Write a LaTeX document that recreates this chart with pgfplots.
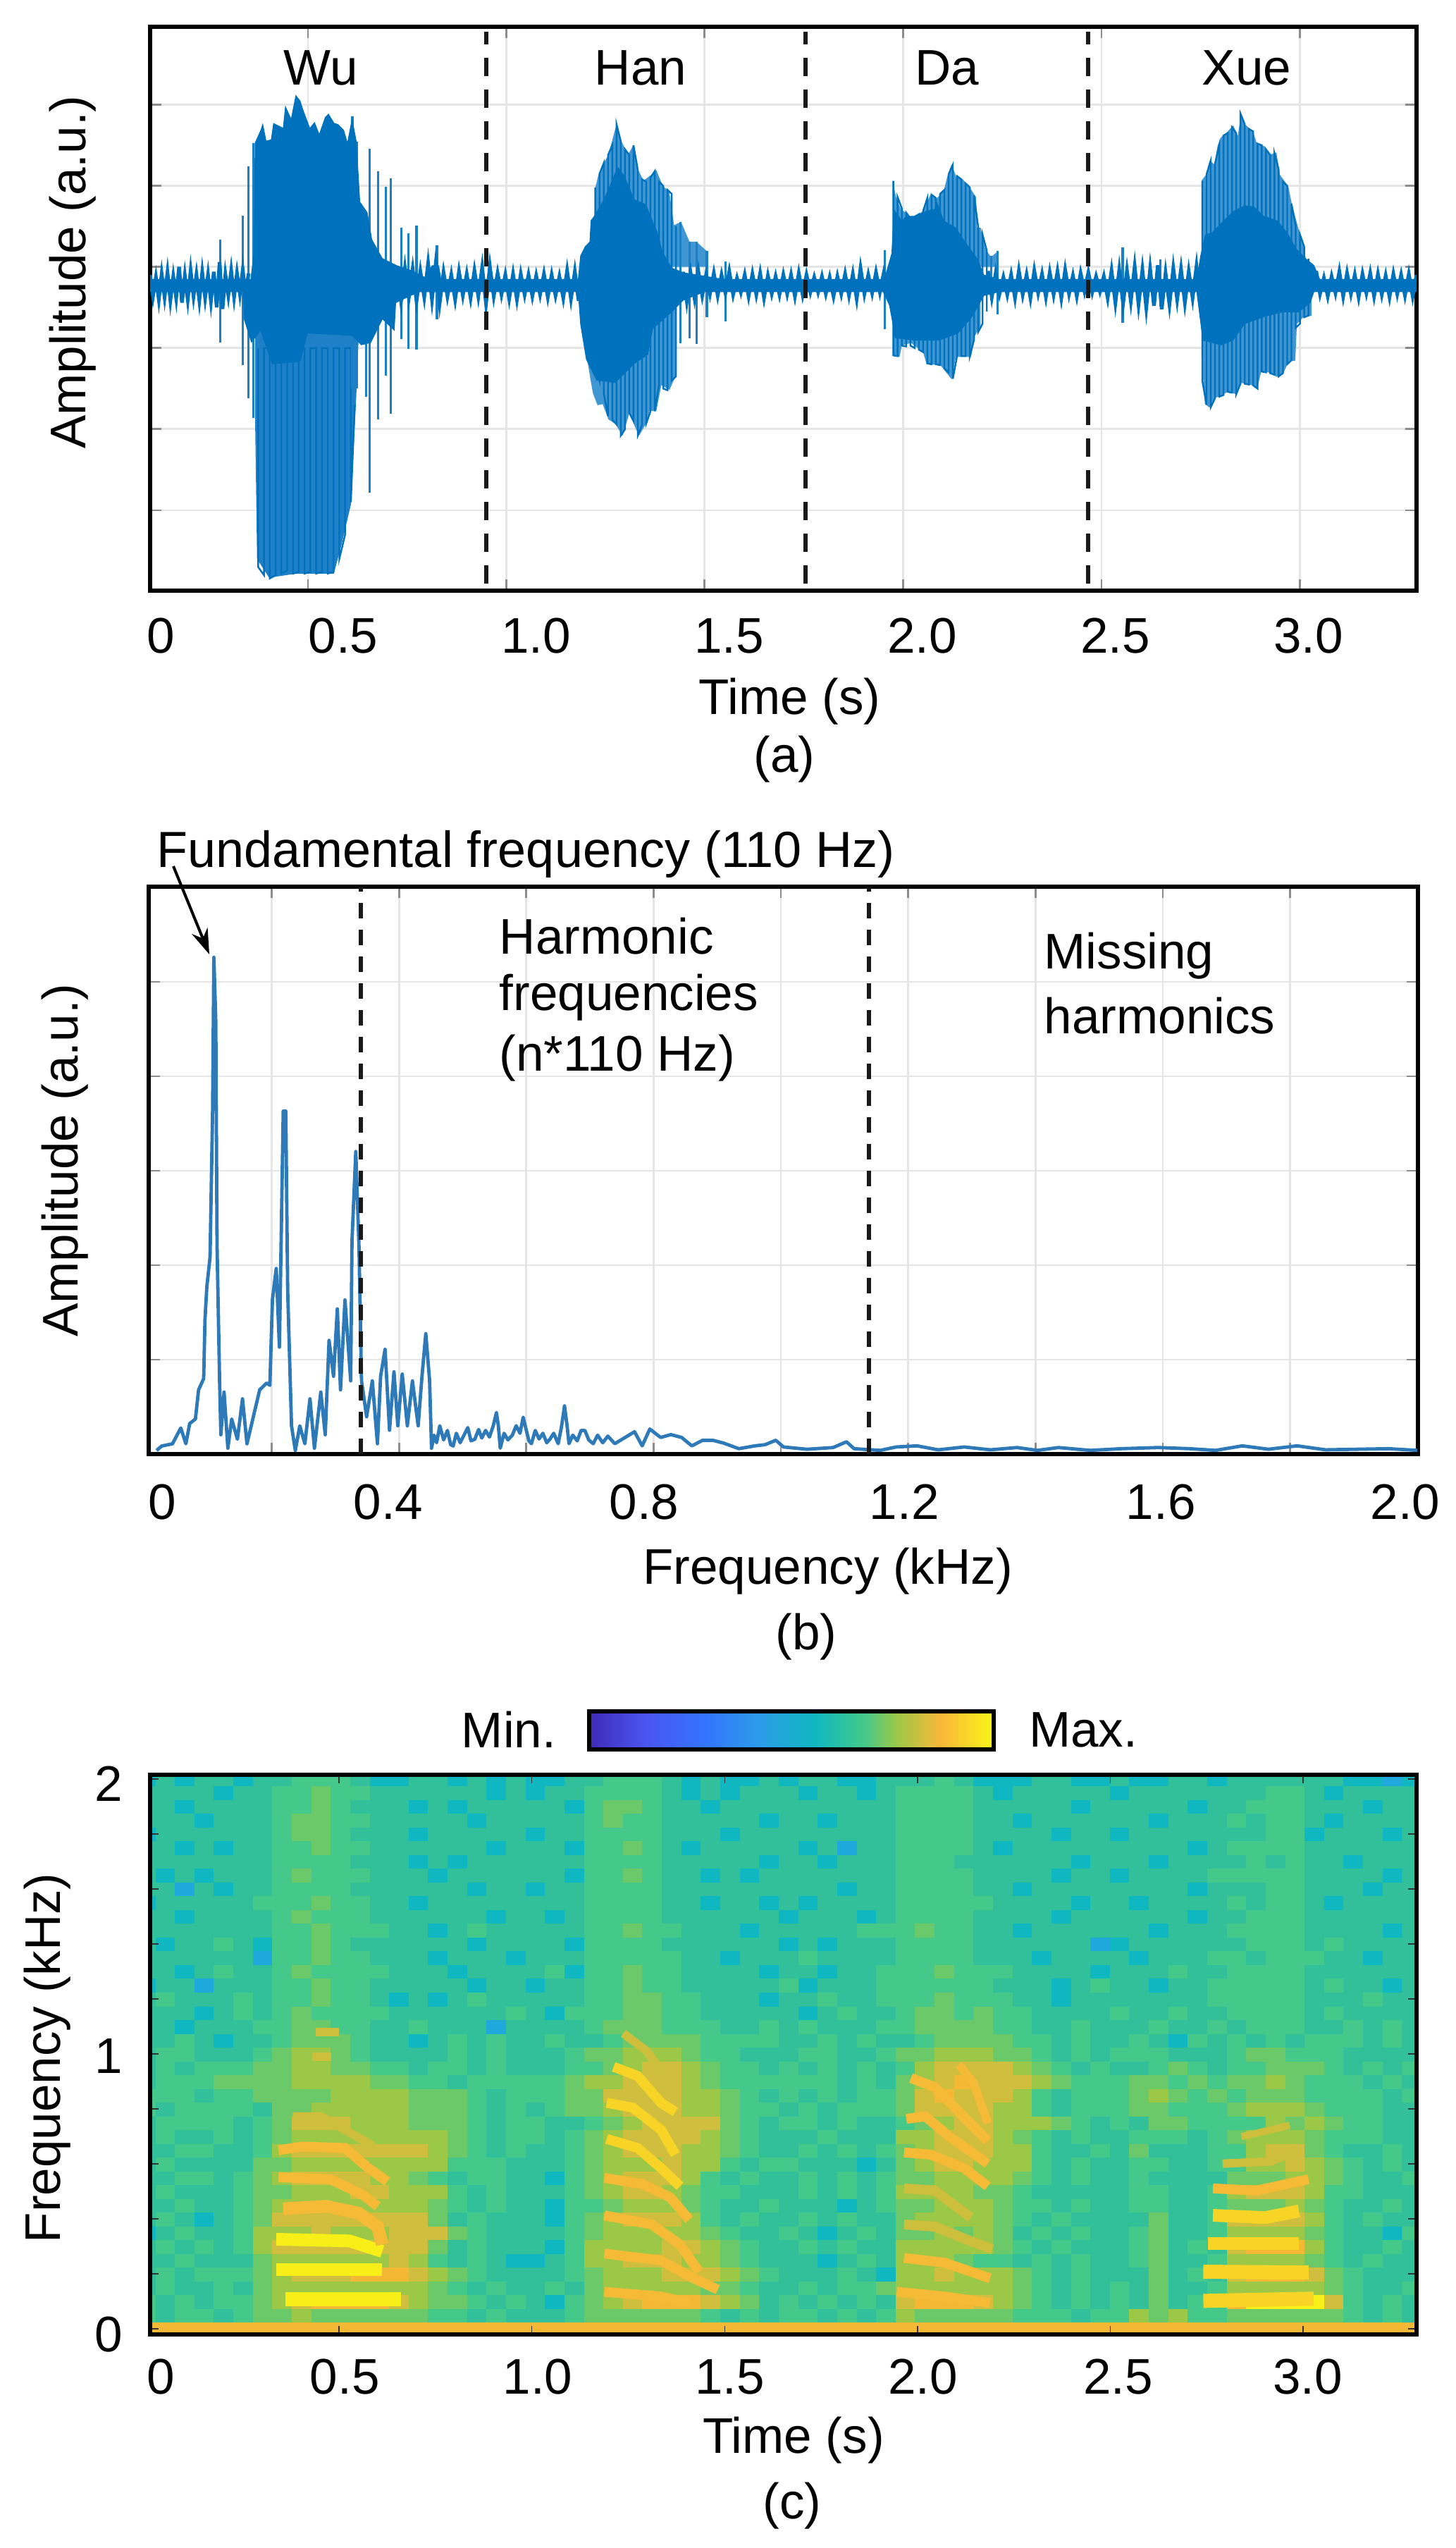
\documentclass[border=0pt]{standalone}
\usepackage{fontspec}
\setmainfont{Liberation Sans}
\usepackage{pgfplots}
\usepackage{pgfplotstable}
\pgfplotsset{compat=1.18}
\usetikzlibrary{arrows.meta}
\definecolor{wave}{HTML}{0072BD}
\definecolor{wavelight}{HTML}{3F96D2}
\definecolor{wavemid}{HTML}{1F80C8}
\definecolor{wavestick}{HTML}{1C80C6}
\definecolor{spec}{HTML}{2E7AB8}
\definecolor{bandY}{HTML}{F8EE18}
\definecolor{bandB}{HTML}{F8D426}
\definecolor{bandO}{HTML}{F5BA36}
\definecolor{bandL}{HTML}{CDBE3C}
\definecolor{cbA}{HTML}{3F2AB8}
\definecolor{cbB}{HTML}{4A55F0}
\definecolor{cbC}{HTML}{3375FF}
\definecolor{cbD}{HTML}{2B9CE8}
\definecolor{cbE}{HTML}{0FB8C0}
\definecolor{cbF}{HTML}{45C98A}
\definecolor{cbG}{HTML}{9CC848}
\definecolor{cbH}{HTML}{FAB83A}
\definecolor{cbI}{HTML}{F8F518}
\pgfdeclarehorizontalshading{cbar}{100bp}{color(0bp)=(cbA);color(25bp)=(cbA);color(32bp)=(cbB);color(39.5bp)=(cbC);color(46bp)=(cbD);color(53bp)=(cbE);color(59bp)=(cbF);color(63bp)=(cbG);color(68.5bp)=(cbH);color(75bp)=(cbI);color(100bp)=(cbI)}
\newcommand{\txt}{\fontsize{17.75}{21.5}\selectfont}
\pgfplotsset{
  panel/.style={
    scale only axis, anchor=south west,
    font=\txt, tick label style={font=\txt},
    /pgf/number format/assume math mode=true,
    axis line style={line width=1.5pt, black},
    tick align=inside, xticklabels={}, yticklabels={},
    xmajorgrids, ymajorgrids,
    grid style={color=black!10, line width=0.7pt},
    every tick/.style={color=black!45, line width=0.7pt},
    major tick length=4pt,
    extra x tick style={major tick length=0pt, grid=none},
    x tick label style={anchor=center},
  },
  dashline/.style={black!90, line width=1.5pt},
}
% spectrogram levels 0..9: one line per frequency row from 0 kHz up, 66 time columns
\pgfplotstableread[header=false]{
8 8 8 8 8 8 8 8 8 8  8 8 8 8 8 8 8 8 8 8  8 8 8 8 8 8 8 8 8 8  8 8 8 8 8 8 8 8 8 8  8 8 8 8 8 8 8 8 8 8  8 8 8 8 8 8 8 8 8 8  8 8 8 8 8 8
4 3 4 4 3 4 5 5 6 5  5 5 5 5 5 4 4 3 4 3  3 3 4 5 5 5 5 5 5 4  3 4 3 4 4 3 4 3 4 6  5 5 5 5 5 4 4 4 3 4  4 6 5 6 4 4 5 5 5 5  5 5 4 3 4 3
4 3 4 3 4 4 5 6 7 8  8 8 8 7 6 5 5 4 3 4  3 2 4 5 6 7 8 8 8 7  6 5 3 4 3 4 3 4 3 7  8 8 8 7 6 5 4 3 4 3  4 3 5 3 4 4 8 9 9 9  9 7 4 3 4 3
3 4 3 3 4 3 5 6 6 6  6 6 6 6 6 5 4 3 4 3  3 4 3 5 6 6 6 6 6 5  5 4 3 3 4 3 4 4 5 6  6 6 6 6 6 5 4 3 4 3  4 3 5 3 3 4 6 6 6 6  6 5 4 3 3 4
3 4 3 4 4 4 5 6 7 7  7 8 8 8 7 6 5 4 3 3  3 3 4 5 6 6 6 7 7 7  6 5 4 3 3 3 4 3 2 6  6 7 6 6 6 5 4 3 4 3  3 3 5 3 4 3 7 8 8 8  7 5 4 3 3 3
3 3 4 3 3 3 5 6 6 6  6 6 6 7 6 4 3 4 3 2  2 3 4 6 6 7 7 7 6 6  5 4 3 3 3 2 3 4 3 6  6 6 5 4 4 3 4 3 4 3  3 4 5 3 3 4 6 6 6 6  5 4 3 4 3 3
3 4 3 4 3 4 6 7 7 7  7 7 7 7 7 5 3 4 3 3  3 2 4 6 6 6 6 7 7 6  5 4 3 3 4 3 4 3 3 6  6 6 6 6 5 4 3 4 3 3  3 4 5 3 4 3 7 8 8 8  6 4 3 3 4 3
2 3 4 3 3 4 6 6 6 7  6 6 6 7 7 7 5 4 3 3  3 3 4 5 6 6 6 6 6 5  4 3 3 4 3 2 3 4 3 5  5 6 5 6 5 3 4 3 4 3  3 4 5 3 3 4 6 6 6 6  5 4 3 3 2 4
3 4 3 2 3 4 5 7 7 7  7 7 7 7 7 5 3 4 3 3  3 2 4 5 6 7 7 7 6 4  3 4 3 3 4 3 4 3 3 5  6 6 6 6 5 4 3 4 3 3  3 3 5 3 3 4 7 7 7 7  6 4 3 4 3 3
3 3 4 3 3 4 5 6 6 6  6 6 6 6 6 5 4 3 4 3  3 2 4 4 5 6 6 6 5 4  3 3 4 3 3 3 2 3 4 5  5 6 6 6 5 4 4 3 4 3  3 4 4 3 3 4 5 5 5 6  5 4 3 3 4 3
3 4 3 3 3 4 5 5 6 6  6 7 7 6 6 6 4 3 4 3  3 3 4 5 6 7 7 6 5 4  4 3 3 3 4 3 4 3 4 6  6 6 6 5 5 4 3 3 3 3  3 4 4 3 3 4 6 7 7 7  6 4 4 3 3 3
3 3 4 4 3 4 5 6 7 7  7 7 6 6 5 4 3 4 4 3  3 2 4 5 6 7 7 7 6 4  3 4 3 3 4 3 4 3 4 5  5 6 6 6 6 5 4 3 4 3  3 4 3 3 3 3 5 5 5 6  6 5 4 3 3 4
3 4 3 3 3 3 5 5 6 6  6 6 6 6 6 6 4 4 4 3  3 3 4 5 6 6 6 7 6 6  4 3 4 4 3 3 3 2 3 5  6 7 7 6 6 6 4 3 4 3  3 4 4 3 3 4 4 6 6 7  6 5 4 3 4 3
3 3 4 4 3 3 4 6 7 7  7 7 7 7 7 6 5 4 3 4  3 3 4 5 6 7 7 7 6 6  5 4 3 3 4 3 4 3 4 5  6 7 7 7 6 6 4 3 3 4  3 5 3 3 3 4 4 6 7 7  5 4 3 3 4 3
3 4 3 3 4 3 4 5 6 6  6 6 6 6 6 6 5 4 3 4  4 3 4 5 6 7 7 7 7 6  5 4 3 3 3 4 3 3 3 6  6 7 7 7 6 5 4 3 4 3  3 4 4 4 3 4 5 6 6 6  5 4 4 4 3 3
3 4 4 4 4 3 4 5 7 7  7 6 6 6 5 5 5 4 3 4  4 3 3 4 5 6 7 7 7 7  5 4 3 4 4 3 4 3 3 4  5 6 7 7 6 6 6 5 4 3  4 3 5 5 4 4 4 4 6 5  6 5 4 4 3 3
4 3 4 4 4 4 3 5 5 6  6 6 6 6 5 5 5 4 3 4  3 4 5 5 6 7 7 7 6 6  5 4 4 3 4 3 4 4 4 5  7 7 7 7 6 6 4 3 4 4  4 5 5 4 4 4 5 6 6 6  5 4 4 4 3 3
4 4 4 3 4 4 5 5 5 5  6 6 6 6 5 5 5 4 3 4  4 4 5 5 7 7 7 7 6 6  5 4 3 4 3 4 3 4 4 5  7 8 7 7 7 6 4 3 4 4  4 5 6 5 4 5 4 5 5 5  4 4 4 4 3 4
3 4 4 4 5 5 5 5 6 6  6 6 5 5 4 4 3 4 4 4  4 4 5 6 6 7 7 7 6 5  4 4 4 4 4 4 3 4 3 5  6 7 8 7 7 7 6 5 4 4  4 5 5 4 5 4 5 5 6 5  4 4 4 3 4 3
3 4 3 4 4 4 5 5 6 6  5 5 4 4 3 4 4 3 4 3  3 3 4 4 5 6 7 7 6 5  4 4 3 4 3 4 3 4 3 4  6 7 7 7 7 6 5 4 3 4  3 3 4 5 4 3 4 4 5 5  5 4 3 4 3 4
3 4 4 3 3 3 4 5 6 6  5 4 3 3 3 3 4 3 4 3  3 3 4 5 5 6 6 6 5 4  4 3 3 3 4 4 3 3 4 5  5 6 6 6 5 5 4 3 4 3  4 4 4 3 3 3 4 5 5 4  4 4 3 3 3 3
3 3 4 3 2 3 3 4 5 5  5 4 3 3 2 3 4 3 4 3  3 4 3 3 4 5 5 5 5 4  4 4 4 3 3 4 3 4 3 3  4 5 5 5 5 4 4 3 4 3  3 4 3 2 4 3 4 3 4 3  4 4 4 3 4 3
3 3 2 3 3 3 4 4 5 5  4 4 3 3 4 3 3 3 1 3  3 3 3 4 5 5 5 4 4 4  3 3 4 3 4 3 3 3 4 4  5 5 5 5 4 4 3 3 4 3  3 3 4 3 3 4 3 4 4 4  3 3 4 3 4 3
3 3 3 2 3 4 3 4 5 4  4 4 4 3 3 3 3 3 3 4  3 2 4 4 4 5 5 4 4 3  3 3 3 3 2 3 4 3 3 4  5 5 4 5 4 4 3 3 3 3  4 3 3 4 3 3 4 4 4 4  3 4 3 3 3 3
3 4 3 3 3 4 3 4 4 5  4 4 3 2 3 2 3 4 3 3  3 3 3 4 4 5 5 4 4 3  3 3 2 3 3 4 3 3 4 4  4 5 4 4 4 3 3 2 3 3  3 3 3 3 3 4 4 4 4 4  3 3 3 4 3 3
2 3 3 1 3 3 3 4 4 5  4 4 3 3 3 3 3 2 3 3  2 3 3 4 4 5 4 4 3 3  3 3 3 4 2 3 3 3 4 4  4 4 4 4 3 3 3 2 3 4  3 3 2 3 3 4 4 4 4 4  3 4 3 3 2 3
3 3 2 3 4 3 3 4 5 4  4 4 4 3 3 3 2 3 3 3  3 4 2 4 4 5 4 4 3 3  3 3 2 3 3 2 3 3 4 4  4 5 4 4 4 3 3 3 3 2  3 3 3 4 3 3 4 4 4 4  3 3 3 3 3 3
3 3 3 3 3 3 1 4 4 5  4 4 3 3 3 2 3 3 3 2  3 3 3 4 4 4 4 4 3 3  2 3 3 3 4 3 3 3 3 4  4 4 4 3 3 3 2 3 3 3  3 2 3 3 3 4 4 3 4 4  4 3 3 2 3 3
3 2 3 3 4 3 2 4 4 5  4 3 3 3 3 3 3 2 3 3  3 3 2 4 4 4 4 3 3 3  3 3 3 2 3 2 3 3 3 4  4 4 4 3 3 3 3 3 3 1  2 3 3 3 3 3 3 4 4 4  3 4 3 3 3 3
3 3 3 3 3 3 3 4 4 5  4 4 4 3 3 2 3 4 3 3  3 3 3 4 4 5 4 4 3 3  3 2 3 3 3 3 3 4 4 4  5 4 4 3 3 2 3 3 3 3  3 3 2 3 3 3 4 4 4 4  3 3 3 3 2 3
3 3 2 3 3 3 3 4 5 4  4 4 3 3 3 3 3 3 2 3  3 2 3 4 4 4 4 3 3 3  3 3 3 2 3 3 3 2 3 4  4 4 4 3 3 3 3 2 3 3  3 3 3 3 2 3 3 4 4 4  3 3 3 3 3 3
2 3 3 3 3 3 4 4 4 5  4 4 3 3 2 3 3 3 3 3  3 3 3 4 4 4 4 3 3 2  3 3 2 3 2 3 3 3 3 4  4 4 4 4 3 3 3 3 2 3  3 2 3 3 3 3 4 3 4 4  3 2 3 3 3 3
3 3 1 3 2 3 3 4 4 4  4 3 3 3 3 3 3 2 3 3  2 3 3 4 4 4 4 3 3 3  3 3 3 3 3 3 2 3 3 4  4 4 4 3 3 2 3 3 3 3  3 3 3 3 2 3 3 3 4 4  3 3 3 2 3 3
3 2 3 2 3 3 3 4 5 4  4 4 3 3 3 2 3 3 3 3  3 3 2 4 4 5 4 3 3 2  3 2 3 3 3 3 3 3 3 4  4 4 4 3 3 3 3 2 3 3  2 3 3 3 3 4 4 4 4 4  3 3 3 3 2 3
3 3 3 3 3 3 3 4 4 4  4 3 3 3 2 3 2 3 3 3  3 3 3 4 4 4 4 3 3 3  3 3 2 3 3 2 3 3 3 4  4 4 3 3 3 3 3 3 2 3  3 3 2 3 3 3 3 4 3 4  3 3 2 3 3 3
3 3 2 3 2 3 3 4 4 5  4 4 3 3 3 3 3 3 2 3  3 3 2 4 4 5 4 3 2 3  3 3 3 3 2 3 1 3 3 4  4 4 4 3 2 3 3 3 3 3  3 3 3 3 2 3 4 4 4 4  3 3 3 3 3 3
2 3 3 3 3 3 3 4 5 5  4 3 3 3 2 3 3 3 3 3  2 3 3 4 4 4 4 3 3 3  2 3 3 3 3 3 3 3 3 4  4 4 4 3 3 3 3 2 3 3  2 3 3 3 3 3 3 3 4 4  2 3 3 3 2 3
3 3 3 2 3 3 3 4 5 5  4 4 3 3 3 3 3 2 3 3  3 3 3 4 5 4 4 3 3 3  3 3 2 3 3 2 3 3 3 4  4 4 4 3 3 2 3 3 3 3  3 3 2 3 3 3 4 3 4 4  3 2 3 3 3 3
3 3 2 3 3 3 3 4 4 5  4 3 3 3 2 3 2 3 3 3  3 3 2 4 5 5 4 3 3 2  3 3 3 3 3 3 3 3 3 4  4 4 4 3 3 3 3 3 2 3  3 3 3 3 2 3 3 4 4 4  3 3 3 2 3 3
3 3 3 3 2 3 3 4 4 5  4 4 3 3 3 3 3 3 2 3  2 3 3 4 4 4 4 3 2 3  2 3 3 3 2 3 3 2 3 4  4 4 4 3 2 3 3 3 3 3  2 3 3 3 3 3 3 3 4 4  3 2 3 3 3 3
2 3 2 3 3 2 3 3 4 4  4 3 2 2 3 3 2 3 2 3  2 2 3 3 4 4 4 3 2 3  2 2 3 2 3 3 2 2 3 3  3 4 3 2 2 2 3 3 2 2  3 2 2 3 3 2 3 3 3 3  3 3 2 2 1 2
3 2 3 2 2 3 2 3 3 4  3 2 2 3 2 2 3 2 3 2  3 2 2 3 3 3 2 3 2 2  3 2 3 2 2 2 3 2 3 3  3 2 2 3 2 2 3 3 2 3  2 3 2 3 2 3 2 3 2 3  2 2 2 3 2 2
}\spectab
\begin{document}
\begin{tikzpicture}

% (a) waveform
\begin{axis}[panel,
  at={(53.25pt,694.25pt)}, width=449.25pt, height=200pt,
  xmin=0, xmax=3.28, ymin=-3.99, ymax=2.96,
  xtick={0.409,0.922,1.436,1.95,2.464,2.978},
  ytick={-3,-2,-1,0,1,2},
  extra x ticks={0.027,0.5,1,1.5,2,2.5,3},
  extra x tick labels={0,0.5,1.0,1.5,2.0,2.5,3.0},
  x tick label style={yshift=-16.1pt},
  xlabel={Time (s)},
  xlabel style={at={(axis description cs:0.505,-0.197)}, anchor=center},
  ylabel={Amplitude (a.u.)},
  ylabel style={at={(axis description cs:-0.0612,0.565)}, anchor=center},
]
% lighter outer part of each syllable
\addplot[fill=wavemid, draw=none] coordinates {(.272,-.3)(.272,-1.89)(.277,-3.6)(.308,-3.83)(.38,-3.78)(.476,-3.78)(.496,-3.42)(.52,-2.93)(.534,-1.59)(.545,-.3)} --cycle;
\addplot[fill=wavelight, draw=none] coordinates {(1.15,0)(1.153,.977)(1.162,1.151)(1.175,1.281)(1.187,1.382)(1.208,1.759)(1.217,1.585)(1.238,1.382)(1.251,1.498)(1.26,1.237)(1.278,1.063)(1.302,1.15)(1.311,1.194)(1.327,1.005)(1.345,.919)(1.357,.513)(1.375,.556)(1.397,.31)(1.415,.31)(1.442,.194)(1.442,0)} --cycle;
\addplot[fill=wavelight, draw=none] coordinates {(1.132,-.3)(1.132,-1.14)(1.141,-1.4)(1.147,-1.56)(1.159,-1.705)(1.172,-1.69)(1.187,-1.879)(1.205,-1.937)(1.224,-2.081)(1.241,-1.806)(1.266,-2.081)(1.284,-1.937)(1.293,-1.777)(1.311,-1.777)(1.324,-1.458)(1.345,-1.516)(1.36,-1.357)(1.36,-.3)} --cycle;
\addplot[fill=wavelight, draw=none] coordinates {(1.923,0)(1.923,1.063)(1.932,.861)(1.944,.716)(1.956,.672)(1.971,.6)(2.002,.687)(2.021,.89)(2.038,.846)(2.056,.948)(2.066,1.136)(2.076,1.266)(2.087,1.121)(2.105,1.078)(2.123,.977)(2.139,.861)(2.142,.484)(2.151,.484)(2.163,.223)(2.178,.122)(2.196,.194)(2.196,0)} --cycle;
\addplot[fill=wavelight, draw=none] coordinates {(1.923,-.3)(1.923,-1.096)(1.941,-1.11)(1.947,-.966)(1.971,-.937)(2.002,-1.052)(2.011,-1.197)(2.047,-1.212)(2.076,-1.386)(2.087,-1.11)(2.126,-1.11)(2.136,-.85)(2.151,-.734)(2.151,-.3)} --cycle;
\addplot[fill=wavelight, draw=none] coordinates {(2.723,0)(2.723,1.063)(2.735,1.136)(2.744,1.31)(2.756,1.266)(2.765,1.498)(2.774,1.6)(2.786,1.643)(2.805,1.745)(2.817,1.614)(2.826,1.89)(2.835,1.759)(2.856,1.672)(2.866,1.527)(2.887,1.484)(2.899,1.382)(2.917,1.411)(2.926,1.136)(2.948,.991)(2.957,.774)(2.975,.455)(2.987,.252)(2.993,.107)(2.993,0)} --cycle;
\addplot[fill=wavelight, draw=none] coordinates {(2.723,-.3)(2.723,-1.11)(2.732,-1.69)(2.744,-1.734)(2.756,-1.618)(2.774,-1.589)(2.793,-1.531)(2.814,-1.574)(2.826,-1.429)(2.853,-1.458)(2.867,-1.502)(2.878,-1.284)(2.908,-1.313)(2.917,-1.357)(2.935,-1.313)(2.948,-1.168)(2.966,-1.154)(2.97,-.705)(2.987,-.618)(3.008,-.603)(3.008,-.3)} --cycle;
% pitch periods inside the lighter parts
\addplot[wave, line width=0.6pt, unbounded coords=jump] coordinates {
(.28,-1)(.28,-3.7)(.295,-3.8)(.295,-1)(.31,-1)(.31,-3.84)(.325,-3.8)(.325,-1)(.34,-1)(.34,-3.78)(.355,-3.74)(.355,-1)(.37,-1)(.37,-3.78)(.385,-3.76)(.385,-1)(.4,-1)(.4,-3.78)(.415,-3.76)(.415,-1)(.43,-1)(.43,-3.78)(.445,-3.76)(.445,-1)(.46,-1)(.46,-3.78)(.475,-3.76)(.475,-1)(.49,-1)(.49,-3.6)(.505,-3.3)(.505,-1)(.52,-1)(.52,-2.9)(.53,-1.7)(.53,nan)
(1.153,.98)(1.153,-1.2)(1.164,-1.4)(1.164,1.15)(1.175,1.28)(1.175,-1.56)(1.186,-1.84)(1.186,1.38)(1.197,1.5)(1.197,-1.88)(1.208,-1.94)(1.208,1.76)(1.219,1.55)(1.219,-2.08)(1.23,-2)(1.23,1.45)(1.241,1.38)(1.241,-1.8)(1.252,-1.9)(1.252,1.5)(1.263,1.2)(1.263,-2.08)(1.274,-1.95)(1.274,1.08)(1.285,1.05)(1.285,-1.93)(1.296,-1.78)(1.296,1.1)(1.307,1.18)(1.307,-1.78)(1.318,-1.46)(1.318,1.05)(1.329,1)(1.329,-1.5)(1.34,-1.52)(1.34,.95)(1.351,.9)(1.351,-1.4)(1.362,-1.35)(1.362,.5)(1.362,nan)
(1.925,1.06)(1.925,-1.09)(1.936,-1.1)(1.936,.86)(1.947,.72)(1.947,-.97)(1.958,-.98)(1.958,.67)(1.969,.6)(1.969,-.97)(1.98,-1)(1.98,.62)(1.991,.65)(1.991,-1.02)(2.002,-1.05)(2.002,.69)(2.013,.85)(2.013,-1.19)(2.024,-1.2)(2.024,.89)(2.035,.85)(2.035,-1.2)(2.046,-1.21)(2.046,.9)(2.057,.95)(2.057,-1.25)(2.068,-1.3)(2.068,1.14)(2.079,1.26)(2.079,-1.38)(2.09,-1.1)(2.09,1.12)(2.101,1.08)(2.101,-1.1)(2.112,-1.1)(2.112,1.03)(2.123,.98)(2.123,-1.1)(2.134,-.9)(2.134,.88)(2.145,.48)(2.145,-.8)(2.156,-.7)(2.156,.4)(2.167,.2)(2.167,-.55)(2.167,nan)
(2.725,1.06)(2.725,-1.4)(2.736,-1.7)(2.736,1.14)(2.747,1.31)(2.747,-1.73)(2.758,-1.62)(2.758,1.27)(2.769,1.5)(2.769,-1.6)(2.78,-1.58)(2.78,1.62)(2.791,1.65)(2.791,-1.54)(2.802,-1.55)(2.802,1.72)(2.813,1.65)(2.813,-1.57)(2.824,-1.44)(2.824,1.89)(2.835,1.76)(2.835,-1.44)(2.846,-1.45)(2.846,1.7)(2.857,1.67)(2.857,-1.46)(2.868,-1.5)(2.868,1.52)(2.879,1.5)(2.879,-1.29)(2.89,-1.3)(2.89,1.45)(2.901,1.38)(2.901,-1.31)(2.912,-1.33)(2.912,1.4)(2.923,1.2)(2.923,-1.35)(2.934,-1.31)(2.934,1.05)(2.945,1)(2.945,-1.2)(2.956,-1.15)(2.956,.78)(2.967,.5)(2.967,-.75)(2.978,-.7)(2.978,.4)(2.989,.25)(2.989,-.62)(3,-.6)(3,.1)
};
% isolated peaks
\addplot[wavestick, line width=0.8pt, unbounded coords=jump] coordinates {
(.182,.339)(.182,-.936)(.182,nan)(.24,.629)(.24,-1.212)(.24,nan)(.255,1.238)(.255,-1.617)(.255,nan)(.268,1.527)(.268,-1.864)(.268,nan)
(.524,1.86)(.524,-1.5)(.524,nan)(.535,1.54)(.535,-1.5)(.535,nan)(.56,.66)(.56,-1.6)(.56,nan)(.569,1.455)(.569,-2.78)(.569,nan)(.59,1.18)(.59,-1.88)(.59,nan)
(.61,.99)(.61,-1.34)(.61,nan)(.623,1.09)(.623,-1.806)(.623,nan)(.651,.484)(.651,-.893)(.651,nan)(.669,.41)(.669,-1.009)(.669,nan)(.69,.513)(.69,-1.023)(.69,nan)(.743,.267)(.743,-.647)(.743,nan)
(1.374,.556)(1.374,-.937)(1.374,nan)(1.397,.31)(1.397,-.879)(1.397,nan)(1.415,.31)(1.415,-.951)(1.415,nan)(1.442,.194)(1.442,-.618)(1.442,nan)(1.49,.064)(1.49,-.676)(1.49,nan)
(1.903,.208)(1.903,-.763)(1.903,nan)(2.178,.136)(2.178,-.415)(2.178,nan)(2.195,.194)(2.195,-.589)(2.195,nan)(2.519,.237)(2.519,-.69)(2.519,nan)(2.616,.093)(2.616,-.487)
};
% background noise between the syllables
\addplot[wave, line width=1.3pt, unbounded coords=jump] coordinates {
(0,-.1)(.0075,-.36)(.015,-.13)(.0225,-.4)(.03,-.09)(.0375,-.37)(.045,-.07)(.0525,-.41)(.06,-.12)(.0675,-.38)(.075,.0)(.0825,-.44)(.09,-.11)(.0975,-.4)(.105,-.05)(.1125,-.36)(.12,-.1)(.1275,-.41)(.135,-.07)(.1425,-.38)(.15,-.1)(.1575,-.42)(.165,-.06)(.1725,-.5)(.18,.06)(.1875,-.52)(.195,-.1)(.2025,-.35)(.21,-.05)(.2175,-.37)(.225,-.08)(.2325,-.33)(.24,-.04)(.2475,-.36)(.255,-.08)(.255,nan)
(.64,.0)(.65,-.42)(.66,-.02)(.67,-.38)(.68,-.03)(.69,-.42)(.7,-.06)(.71,-.37)(.72,.04)(.73,-.4)(.74,.05)(.75,-.44)(.76,-.07)(.77,-.36)(.78,-.1)(.79,-.4)(.8,-.06)(.81,-.35)(.82,-.09)(.83,-.38)(.84,-.05)(.85,-.36)(.86,-.01)(.87,-.45)(.88,.0)(.89,-.36)(.9,-.08)(.91,-.34)(.92,-.1)(.93,-.39)(.94,-.09)(.95,-.4)(.96,-.09)(.97,-.34)(.98,-.1)(.99,-.36)(1,-.11)(1.01,-.34)(1.02,-.09)(1.03,-.37)(1.04,-.1)(1.05,-.35)(1.06,-.12)(1.07,-.38)(1.08,-.05)(1.09,-.39)(1.1,-.06)(1.11,-.42)(1.11,nan)
(1.38,-.06)(1.39,-.42)(1.4,-.08)(1.41,-.38)(1.42,-.06)(1.43,-.35)(1.44,-.1)(1.45,-.33)(1.46,-.08)(1.47,-.35)(1.48,-.1)(1.49,-.32)(1.5,-.06)(1.51,-.34)(1.52,-.14)(1.53,-.31)(1.54,-.1)(1.55,-.36)(1.56,-.09)(1.57,-.34)(1.58,-.08)(1.59,-.38)(1.6,-.11)(1.61,-.33)(1.62,-.12)(1.63,-.34)(1.64,-.1)(1.65,-.33)(1.66,-.1)(1.67,-.36)(1.68,-.08)(1.69,-.34)(1.7,-.1)(1.71,-.31)(1.72,-.13)(1.73,-.31)(1.74,-.12)(1.75,-.33)(1.76,-.13)(1.77,-.36)(1.78,-.12)(1.79,-.33)(1.8,-.09)(1.81,-.35)(1.82,-.09)(1.83,-.39)(1.84,-.02)(1.85,-.33)(1.86,-.1)(1.87,-.32)(1.88,-.07)(1.89,-.31)(1.9,-.08)(1.91,-.36)(1.91,nan)
(2.17,-.05)(2.18,-.37)(2.19,-.08)(2.2,-.33)(2.21,-.13)(2.22,-.34)(2.23,-.1)(2.24,-.38)(2.25,-.05)(2.26,-.34)(2.27,-.1)(2.28,-.38)(2.29,-.05)(2.3,-.32)(2.31,-.09)(2.32,-.37)(2.33,-.07)(2.34,-.34)(2.35,-.06)(2.36,-.38)(2.37,-.04)(2.38,-.33)(2.39,-.11)(2.4,-.36)(2.41,-.08)(2.42,-.3)(2.43,-.07)(2.44,-.31)(2.45,-.12)(2.46,-.3)(2.47,-.12)(2.48,-.38)(2.49,-.05)(2.5,-.44)(2.51,-.04)(2.52,-.45)(2.53,-.05)(2.54,-.42)(2.55,.0)(2.56,-.46)(2.57,-.04)(2.58,-.5)(2.59,-.03)(2.6,-.48)(2.61,.02)(2.62,-.52)(2.63,-.08)(2.64,-.46)(2.65,-.02)(2.66,-.4)(2.67,-.03)(2.68,-.44)(2.69,-.06)(2.7,-.38)(2.71,.0)(2.72,-.48)(2.72,nan)
(3.02,-.05)(3.03,-.33)(3.04,-.14)(3.05,-.36)(3.06,-.12)(3.07,-.32)(3.08,-.06)(3.09,-.36)(3.1,-.08)(3.11,-.33)(3.12,-.1)(3.13,-.37)(3.14,-.09)(3.15,-.32)(3.16,-.08)(3.17,-.36)(3.18,-.09)(3.19,-.34)(3.2,-.11)(3.21,-.37)(3.22,-.09)(3.23,-.33)(3.24,-.1)(3.25,-.35)(3.26,-.09)(3.27,-.36)(3.28,-.1)
};
% dense core: upper edge and lower edge, each closed along the zero line of the signal
\addplot[fill=wave, draw=none] coordinates {
(0,-.15)(.26,-.15)(.268,.165)(.271,1.527)(.286,1.687)(.292,1.774)(.301,1.556)(.313,1.571)(.319,1.774)(.344,1.716)(.35,1.991)(.365,1.832)(.377,2.122)(.389,2.049)(.398,1.919)(.414,1.716)(.426,1.788)(.438,1.643)(.453,1.846)(.462,1.89)(.477,1.774)(.487,1.759)(.502,1.687)(.511,1.542)(.523,1.846)(.535,1.542)(.544,.803)(.563,.672)(.575,.339)(.602,.107)(.639,.02)(.675,-.038)(.712,-.125)(.73,.02)(.748,.02)(.754,-.15)
(1.108,-.15)(1.114,.136)(1.126,.252)(1.138,.31)(1.141,.571)(1.15,.629)(1.175,.832)(1.193,1.034)(1.211,1.237)(1.229,1.121)(1.254,.832)(1.284,.774)(1.314,.426)(1.327,.194)(1.351,-.009)(1.381,-.067)(1.424,-.1)(1.485,-.15)
(1.901,-.15)(1.92,.165)(1.926,.716)(1.947,.571)(1.959,.629)(1.983,.629)(2.008,.687)(2.032,.716)(2.038,.803)(2.056,.571)(2.087,.484)(2.111,.31)(2.142,.107)(2.16,-.096)(2.2,-.15)
(2.71,-.15)(2.72,.136)(2.732,.397)(2.75,.426)(2.774,.542)(2.805,.687)(2.835,.759)(2.859,.745)(2.884,.629)(2.92,.571)(2.945,.426)(2.969,.223)(2.993,.107)(3.015,.02)(3.03,-.15)(3.28,-.15)
(3.28,-.23)(0,-.23)} --cycle;
\addplot[fill=wave, draw=none] coordinates {
(0,-.31)(.24,-.31)(.243,-.647)(.262,-.936)(.286,-.79)(.316,-1.2)(.389,-1.17)(.408,-.82)(.523,-.85)(.547,-.965)(.572,-.936)(.602,-.647)(.633,-.79)(.637,-.444)(.675,-.357)(.7,-.31)
(1.108,-.31)(1.114,-.705)(1.129,-1.14)(1.156,-1.4)(1.205,-1.43)(1.254,-1.197)(1.29,-1.08)(1.302,-.763)(1.351,-.56)(1.381,-.415)(1.436,-.31)
(1.898,-.31)(1.914,-.473)(1.923,-.705)(1.929,-.879)(1.983,-.908)(2.044,-.908)(2.093,-.82)(2.129,-.618)(2.16,-.357)(2.2,-.31)
(2.71,-.31)(2.726,-.908)(2.774,-.966)(2.805,-.908)(2.835,-.705)(2.884,-.618)(2.932,-.56)(2.975,-.56)(3.005,-.444)(3.015,-.31)(3.28,-.31)
(3.28,-.23)(0,-.23)} --cycle;
% syllable boundaries
\addplot[dashline, dash pattern=on 6.5pt off 4.75pt] coordinates {(0.87,-3.9)(0.87,2.9)};
\addplot[dashline, dash pattern=on 6.5pt off 4.75pt] coordinates {(1.697,-3.9)(1.697,2.9)};
\addplot[dashline, dash pattern=on 6.5pt off 4.75pt] coordinates {(2.429,-3.9)(2.429,2.9)};
\end{axis}

% (b) spectrum
\begin{axis}[panel,
  at={(52.75pt,388pt)}, width=450.25pt, height=201.25pt,
  xmin=0.0066, xmax=2.001, ymin=0, ymax=6.007,
  xtick={0.2,0.4,0.6,0.8,1.0,1.2,1.4,1.6,1.8},
  ytick={1,2,3,4,5},
  extra x ticks={0.028,0.383,0.785,1.194,1.597,1.981},
  extra x tick labels={0,0.4,0.8,1.2,1.6,2.0},
  x tick label style={yshift=-17pt},
  xlabel={Frequency (kHz)},
  xlabel style={at={(axis description cs:0.535,-0.206)}, anchor=center},
  ylabel={Amplitude (a.u.)},
  ylabel style={at={(axis description cs:-0.0661,0.518)}, anchor=center},
]
\addplot[spec, line width=1.2pt, line join=round] coordinates {
(.019,.038)(.027,.085)(.044,.109)(.057,.276)(.065,.109)(.071,.323)(.08,.371)(.085,.68)(.093,.799)(.095,1.418)(.098,1.775)(.103,2.084)(.107,3.631)(.109,5.259)(.112,4.583)(.114,2.203)(.118,.775)(.12,.204)(.125,.656)(.131,.062)(.137,.371)(.146,.157)(.154,.585)(.161,.109)(.171,.395)(.181,.68)(.192,.752)(.197,.728)(.201,1.632)(.207,1.965)(.212,1.132)(.218,3.631)(.222,3.631)(.225,1.727)(.231,.299)(.237,.038)(.244,.299)(.252,.109)(.26,.585)(.267,.062)(.277,.656)(.284,.204)(.29,1.204)(.297,.823)(.303,1.537)(.308,.68)(.315,1.632)(.324,.775)(.326,2.251)(.332,3.203)(.337,2.203)(.341,.775)(.349,.395)(.358,.775)(.366,.109)(.371,.823)(.378,1.109)(.385,.252)(.392,.871)(.398,.299)(.405,.847)(.413,.299)(.421,.775)(.43,.299)(.436,.823)(.442,1.275)(.448,.775)
(.451,.062)(.455,.2)(.459,.12)(.464,.3)(.47,.15)(.476,.25)(.481,.1)(.485,.085)(.49,.22)(.496,.12)(.502,.2)(.508,.28)(.513,.14)(.519,.157)(.525,.26)(.53,.17)(.536,.25)(.542,.18)(.548,.3)(.553,.44)(.556,.3)(.559,.062)(.565,.22)(.571,.15)(.578,.2)(.584,.3)(.59,.22)(.595,.39)(.6,.25)(.604,.14)(.608,.11)(.614,.25)(.62,.16)(.626,.22)(.632,.12)(.637,.157)(.643,.22)(.65,.11)(.655,.28)(.66,.51)(.664,.3)(.667,.11)(.673,.2)(.68,.14)(.686,.25)(.692,.25)(.698,.15)(.705,.11)(.712,.2)(.72,.12)(.728,.19)(.739,.11)
(.77,.236)(.782,.087)(.794,.265)(.811,.176)(.827,.206)(.844,.176)(.86,.087)(.877,.146)(.893,.146)(.91,.116)(.934,.057)(.959,.087)(.975,.099)(.992,.146)(1.004,.075)(1.041,.051)(1.082,.069)(1.103,.13)(1.115,.057)(1.156,.039)(1.181,.075)(1.214,.087)(1.247,.045)(1.288,.075)(1.329,.045)(1.371,.069)(1.403,.039)(1.436,.069)(1.486,.039)(1.535,.057)(1.593,.069)(1.642,.057)(1.683,.039)(1.725,.087)(1.766,.051)(1.811,.087)(1.856,.045)(1.905,.051)(1.955,.057)(2.0,.039)
};
\addplot[dashline, dash pattern=on 5.5pt off 4pt] coordinates {(0.34,0)(0.34,6)};
\addplot[dashline, dash pattern=on 5.5pt off 4pt] coordinates {(1.138,0)(1.138,6)};
\end{axis}

% cells of the spectrogram, taken from the table one row at a time
\gdef\cells{}
\foreach \r in {0,...,41}{
  \gdef\rowcells{}
  \foreach \c in {0,...,65}{
    \pgfplotstablegetelem{\r}{[index]\c}\of\spectab
    \pgfmathsetmacro\xx{\c*0.0505}
    \pgfmathsetmacro\yy{\r*0.05}
    \xdef\rowcells{\rowcells (\xx,\yy) [\pgfplotsretval]}
  }
  \xdef\cells{\cells\rowcells}
}

% (c) spectrogram
\begin{axis}[panel,
  at={(53.25pt,75.75pt)}, width=449.25pt, height=198.5pt,
  xmin=0.01, xmax=3.294, ymin=-0.02, ymax=2.015,
  xmajorgrids=false, ymajorgrids=false, axis on top,
  xtick={0.5,1,1.5,2,2.5,3},
  ytick={0,0.2,0.4,0.6,0.8,1,1.2,1.4,1.6,1.8,2},
  every tick/.style={color=black!80, line width=0.35pt},
  major tick length=3pt,
  extra x ticks={0.037,0.515,1.015,1.513,2.014,2.52,3.012},
  extra x tick labels={0,0.5,1.0,1.5,2.0,2.5,3.0},
  extra y ticks={-0.02,0.992,1.982},
  extra y tick labels={0,1,2},
  extra y tick style={major tick length=0pt},
  x tick label style={yshift=-15pt},
  y tick label style={anchor=center, xshift=-14.75pt},
  xlabel={Time (s)},
  xlabel style={at={(axis description cs:0.508,-0.189)}, anchor=center},
  ylabel={Frequency (kHz)},
  ylabel style={at={(axis description cs:-0.0812,0.494)}, anchor=center},
  colormap={spectro}{rgb255(0cm)=(47,134,240) rgb255(1cm)=(31,168,220) rgb255(2cm)=(15,184,192) rgb255(3cm)=(50,192,155) rgb255(4cm)=(69,201,138) rgb255(5cm)=(108,201,106) rgb255(6cm)=(156,200,72) rgb255(7cm)=(208,190,62) rgb255(8cm)=(245,184,52) rgb255(9cm)=(248,240,24)},
  point meta min=0, point meta max=9,
]
\edef\tmp{\noexpand\addplot[matrix plot*, mesh/cols=66, mesh/ordering=x varies, point meta=explicit] coordinates {\cells};}
\tmp
% harmonic tracks
\addplot[bandY, line width=5pt] coordinates {(.361,.107)(.661,.107)};
\addplot[bandY, line width=4.5pt] coordinates {(.337,.217)(.612,.217)};
\addplot[bandY, line width=4.5pt] coordinates {(.337,.326)(.527,.32)(.612,.282)};
\addplot[bandO, line width=4.5pt] coordinates {(.355,.437)(.466,.446)(.551,.421)(.6,.372)(.612,.307)};
\addplot[bandO, line width=3.5pt] coordinates {(.343,.552)(.478,.544)(.563,.486)(.6,.446)};
\addplot[bandO, line width=3.5pt] coordinates {(.343,.65)(.404,.663)(.515,.658)(.576,.585)(.625,.536)};
\addplot[bandL, line width=3pt] coordinates {(.38,.773)(.453,.773)(.515,.724)(.588,.666)};
\addplot[bandL, line width=3pt] coordinates {(.43,.99)(.48,.99)};
\addplot[bandL, line width=3pt] coordinates {(.44,1.08)(.5,1.08)};
\addplot[bandO, line width=3.5pt] coordinates {(1.188,.135)(1.335,.118)(1.408,.094)};
\addplot[bandO, line width=3.5pt] coordinates {(1.188,.274)(1.335,.249)(1.408,.192)(1.482,.143)};
\addplot[bandO, line width=3.5pt] coordinates {(1.188,.413)(1.31,.38)(1.384,.307)(1.433,.208)};
\addplot[bandO, line width=3.5pt] coordinates {(1.188,.549)(1.286,.527)(1.359,.478)(1.408,.397)};
\addplot[bandB, line width=3.5pt] coordinates {(1.194,.691)(1.274,.658)(1.335,.585)(1.384,.519)};
\addplot[bandB, line width=3.5pt] coordinates {(1.194,.822)(1.261,.805)(1.335,.724)(1.372,.634)};
\addplot[bandB, line width=3.5pt] coordinates {(1.212,.953)(1.274,.92)(1.335,.822)(1.372,.789)};
\addplot[bandL, line width=3pt] coordinates {(1.237,1.075)(1.298,1.01)(1.347,.912)};
\addplot[bandO, line width=3.5pt] coordinates {(1.946,.135)(2.07,.118)(2.188,.094)};
\addplot[bandO, line width=3.5pt] coordinates {(1.965,.258)(2.07,.241)(2.188,.184)};
\addplot[bandL, line width=3.5pt] coordinates {(1.965,.38)(2.045,.372)(2.145,.315)(2.194,.29)};
\addplot[bandL, line width=3.5pt] coordinates {(1.965,.511)(2.045,.503)(2.138,.405)};
\addplot[bandO, line width=3.5pt] coordinates {(1.965,.642)(2.033,.634)(2.12,.585)(2.182,.519)};
\addplot[bandO, line width=3.5pt] coordinates {(1.971,.764)(2.02,.773)(2.083,.699)(2.182,.601)};
\addplot[bandO, line width=3.5pt] coordinates {(1.983,.912)(2.045,.879)(2.107,.789)(2.182,.683)};
\addplot[bandO, line width=3pt] coordinates {(2.107,.961)(2.145,.895)(2.182,.748)};
\addplot[bandB, line width=5pt] coordinates {(2.741,.102)(3.027,.11)};
\addplot[bandB, line width=5pt] coordinates {(2.741,.208)(3.014,.205)};
\addplot[bandB, line width=4.5pt] coordinates {(2.753,.31)(2.989,.31)};
\addplot[bandB, line width=4.5pt] coordinates {(2.766,.413)(2.902,.405)(2.989,.429)};
\addplot[bandO, line width=3.5pt] coordinates {(2.766,.511)(2.878,.503)(3.014,.544)};
\addplot[bandL, line width=3pt] coordinates {(2.791,.601)(2.915,.609)(2.989,.65)};
\addplot[bandL, line width=2.5pt] coordinates {(2.84,.699)(2.965,.74)};
\end{axis}

% annotations, positions in pixels of the reference
\begin{scope}[x=0.25pt, y=-0.25pt, yshift=903.75pt, every node/.style={font=\txt, inner sep=0pt}]
\node at (455,96) {Wu};
\node at (909,96) {Han};
\node at (1344,96) {Da};
\node at (1769,96) {Xue};
\node at (1113,1077) {(a)};
\node[anchor=west, font=\fontsize{18}{21.5}\selectfont] at (222,1212) {Fundamental frequency (110 Hz)};
\draw[-{Stealth[length=9pt,width=6pt]}, line width=1pt] (246,1229) -- (297,1354);
\node[anchor=west] at (708,1328) {Harmonic};
\node[anchor=west] at (708,1415) {frequencies};
\node[anchor=west] at (708,1501) {(n*110 Hz)};
\node[anchor=west] at (1481,1356) {Missing};
\node[anchor=west] at (1481,1441) {harmonics};
\node at (1144,2322) {(b)};
\node at (722,2454) {Min.};
\node at (1537,2454) {Max.};
\path[shading=cbar] (836,2428) rectangle (1410,2482);
\draw[line width=1.3pt] (836,2428) rectangle (1410,2482);
\node at (1124,3555) {(c)};
\end{scope}
\pgfresetboundingbox
\path[use as bounding box] (0,0) rectangle (516.25pt,903.75pt);
\end{tikzpicture}
\end{document}
